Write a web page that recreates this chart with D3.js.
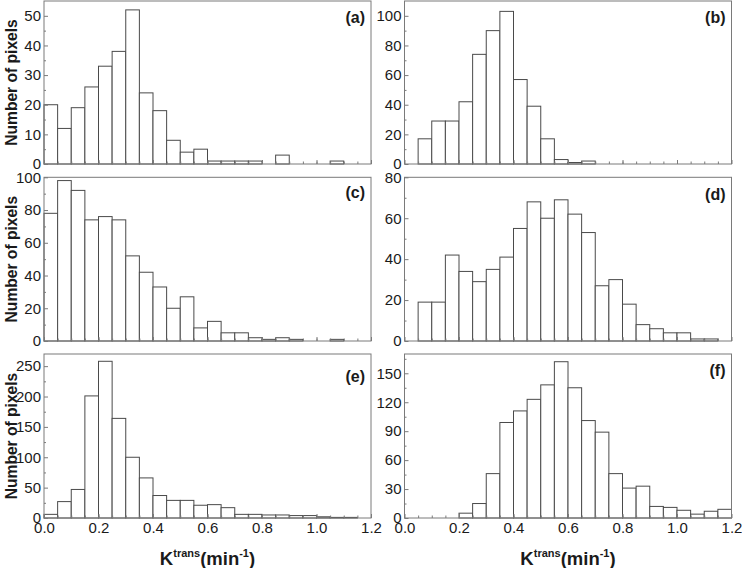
<!DOCTYPE html>
<html>
<head>
<meta charset="utf-8">
<script src="https://cdn.jsdelivr.net/npm/d3@7"></script>
<style>
  html, body { margin: 0; padding: 0; background: #fff; }
  svg { display: block; font-family: "Liberation Sans", Arial, sans-serif; }
</style>
</head>
<body>
<svg id="chart" width="742" height="568"></svg>
<script>
// ---- data ----
const binStart = [0.00,0.05,0.10,0.15,0.20,0.25,0.30,0.35,0.40,0.45,0.50,0.55,
                  0.60,0.65,0.70,0.75,0.80,0.85,0.90,0.95,1.00,1.05,1.10,1.15];
const binWidth = 0.05;
const countsA = [20,12,19,26,33,38,52,24,18,8,4,5,1,1,1,1,0,3,0,0,0,1,0,0];
const countsB = [0,17,29,29,42,74,90,103,57,39,17,3,1,2,0,0,0,0,0,0,0,0,0,0];
const countsC = [78,98,92,74,76,74,52,42,33,20,27,8,12,5,5,2,1,2,1,0,0,1,0,0];
const countsD = [0,19,19,42,34,29,35,41,55,68,60,69,62,53,27,30,18,8,6,4,4,1,1,0];
const countsE = [6,27,47,201,258,164,100,66,37,29,29,21,22,17,6,6,5,5,4,4,2,1,1,0];
const countsF = [0,0,0,0,5,15,46,99,111,123,138,162,135,101,89,46,31,33,12,11,8,4,7,9];
const panelLabels = ["(a)","(b)","(c)","(d)","(e)","(f)"];
const yMaxes = [55,110,100,80,270,170];
const yTicksA = [0,10,20,30,40,50];
const yTicksB = [0,20,40,60,80,100];
const yTicksC = [0,20,40,60,80,100];
const yTicksD = [0,20,40,60,80];
const yTicksE = [0,50,100,150,200,250];
const yTicksF = [0,30,60,90,120,150];
const xTicks = [0.0,0.2,0.4,0.6,0.8,1.0,1.2];
const yAxisTitle = "Number of pixels";

const allCounts = [countsA,countsB,countsC,countsD,countsE,countsF];
const allYTicks = [yTicksA,yTicksB,yTicksC,yTicksD,yTicksE,yTicksF];

// ---- layout ----
const colX = [44, 404.5];
const panelW = 327;
const rowTop = [1, 177.3, 354];
const rowBottom = [164, 341, 518];
const labelDy = [22, 22, 21, 23, 28, 22];
const frameColor = "#7a7a7a";
const barColor = "#4a4a4a";
const textColor = "#1a1a1a";

const svg = d3.select("#chart");

allCounts.forEach((counts, i) => {
  const col = i % 2, row = Math.floor(i / 2);
  const x0 = colX[col], top = rowTop[row], bottom = rowBottom[row];
  const x = d3.scaleLinear().domain([0, 1.2]).range([x0, x0 + panelW]);
  const y = d3.scaleLinear().domain([0, yMaxes[i]]).range([bottom, top]);
  const g = svg.append("g");

  // bars
  const data = binStart.map((b, k) => ({b, v: counts[k]})).filter(d => d.v > 0);
  g.selectAll("rect.bar").data(data).enter().append("rect")
    .attr("class", "bar")
    .attr("x", d => x(d.b))
    .attr("width", d => x(d.b + binWidth) - x(d.b))
    .attr("y", d => y(d.v))
    .attr("height", d => y(0) - y(d.v))
    .attr("fill", "#fff")
    .attr("stroke", barColor)
    .attr("stroke-width", 1);

  // y minor ticks
  const yt = allYTicks[i];
  const step = yt[1] - yt[0];
  const minor = yt.map(v => v + step / 2).filter(v => v < yMaxes[i]);
  const yMinorAxis = d3.axisLeft(y).tickValues(minor).tickSize(-2).tickFormat("");
  g.append("g").attr("transform", `translate(${x0},0)`).call(yMinorAxis)
    .call(s => s.select(".domain").remove())
    .call(s => s.selectAll("line").attr("stroke", frameColor));

  // y major axis
  const yAxis = d3.axisLeft(y).tickValues(yt).tickSize(-4).tickPadding(3).tickFormat(d3.format("d"));
  g.append("g").attr("transform", `translate(${x0},0)`).call(yAxis)
    .call(s => s.select(".domain").remove())
    .call(s => s.selectAll("line").attr("stroke", frameColor))
    .call(s => s.selectAll("text").attr("fill", textColor).attr("font-size", 15)
      .attr("font-family", "'Liberation Sans', Arial, sans-serif"));

  // x minor ticks (bin edges)
  const xMinorAxis = d3.axisBottom(x).tickValues(binStart.slice(1)).tickSize(-2.5).tickFormat("");
  g.append("g").attr("transform", `translate(0,${bottom})`).call(xMinorAxis)
    .call(s => s.select(".domain").remove())
    .call(s => s.selectAll("line").attr("stroke", frameColor));

  // x major axis
  const xAxis = d3.axisBottom(x).tickValues(xTicks).tickSize(-4).tickPadding(4)
    .tickFormat(row === 2 ? d3.format(".1f") : "");
  g.append("g").attr("transform", `translate(0,${bottom})`).call(xAxis)
    .call(s => s.select(".domain").remove())
    .call(s => s.selectAll("line").attr("stroke", frameColor))
    .call(s => s.selectAll("text").attr("fill", textColor).attr("font-size", 15)
      .attr("font-family", "'Liberation Sans', Arial, sans-serif"));

  // frame
  g.append("rect")
    .attr("x", x0).attr("y", top)
    .attr("width", panelW).attr("height", bottom - top)
    .attr("fill", "none").attr("stroke", frameColor).attr("stroke-width", 1);

  // panel label
  g.append("text")
    .attr("x", x0 + panelW - 6).attr("y", top + labelDy[i])
    .attr("text-anchor", "end")
    .attr("font-size", 16).attr("font-weight", "bold").attr("fill", textColor)
    .text(panelLabels[i]);

  // y axis title (left column)
  if (col === 0) {
    svg.append("text")
      .attr("transform", `translate(16.5,${(top + bottom) / 2}) rotate(-90)`)
      .attr("text-anchor", "middle")
      .attr("font-size", 15.6).attr("font-weight", "bold").attr("fill", textColor)
      .text(yAxisTitle);
  }

  // x axis title (bottom row)
  if (row === 2) {
    const t = svg.append("text")
      .attr("x", x0 + panelW / 2).attr("y", 565)
      .attr("text-anchor", "middle")
      .attr("font-size", 18.5).attr("font-weight", "bold").attr("fill", textColor);
    t.append("tspan").text("K");
    t.append("tspan").attr("font-size", 11).attr("dy", -8).text("trans");
    t.append("tspan").attr("dy", 8).text("(min");
    t.append("tspan").attr("font-size", 11).attr("dy", -8).text("-1");
    t.append("tspan").attr("dy", 8).text(")");
  }
});
</script>
</body>
</html>
